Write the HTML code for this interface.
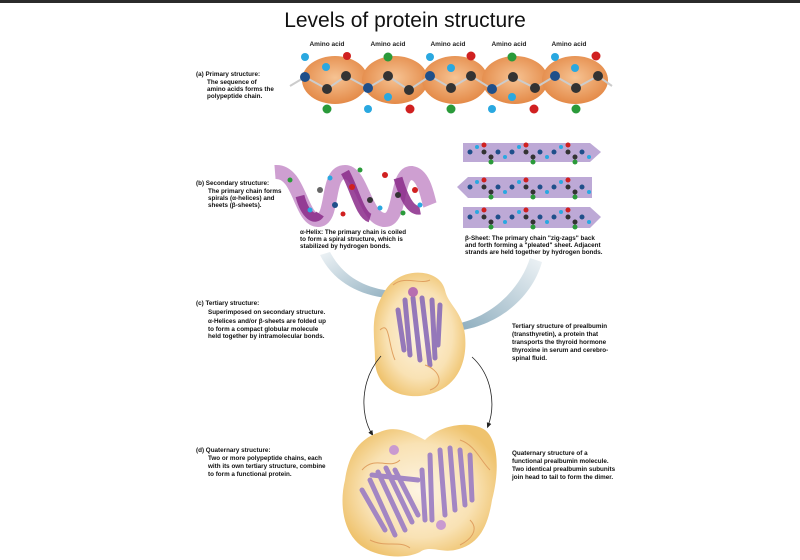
<!DOCTYPE html>
<html><head><meta charset="utf-8"><style>
html,body{margin:0;padding:0;background:#fff;}
svg{display:block;}
text{font-family:"Liberation Sans",Arial,sans-serif;fill:#111;}
.s{font-size:6.3px;font-weight:bold;}
.aa{font-size:6.5px;font-weight:bold;fill:#222;}
</style></head><body>
<svg width="800" height="560" viewBox="0 0 800 560" xmlns="http://www.w3.org/2000/svg">
<defs>
<radialGradient id="og" cx="50%" cy="45%" r="55%"><stop offset="0" stop-color="#f6c393"/><stop offset="1" stop-color="#e48a48"/></radialGradient>
<radialGradient id="yb" cx="50%" cy="50%" r="55%"><stop offset="0" stop-color="#fdf4e2"/><stop offset="0.65" stop-color="#f9e2b4"/><stop offset="1" stop-color="#efc36e"/></radialGradient>
<linearGradient id="ar1" x1="0" y1="0" x2="1" y2="1"><stop offset="0" stop-color="#eef3f6"/><stop offset="1" stop-color="#7ea2b5"/></linearGradient>
<linearGradient id="ar2" x1="1" y1="0" x2="0" y2="1"><stop offset="0" stop-color="#eef3f6"/><stop offset="1" stop-color="#7ea2b5"/></linearGradient>
<marker id="ah" markerWidth="8" markerHeight="8" refX="4" refY="4" orient="auto"><path d="M0,1 L7,4 L0,7 z" fill="#222"/></marker>
</defs>
<rect x="0" y="0" width="800" height="3" fill="#2b2b2b"/>
<text x="405" y="27" text-anchor="middle" style="font-size:21px;">Levels of protein structure</text>

<!-- (a) primary -->
<text x="327" y="46" text-anchor="middle" class="aa">Amino acid</text>
<text x="388" y="46" text-anchor="middle" class="aa">Amino acid</text>
<text x="448" y="46" text-anchor="middle" class="aa">Amino acid</text>
<text x="509" y="46" text-anchor="middle" class="aa">Amino acid</text>
<text x="569" y="46" text-anchor="middle" class="aa">Amino acid</text>
<g fill="url(#og)">
<ellipse cx="335" cy="80" rx="33" ry="24"/>
<ellipse cx="395" cy="80" rx="33" ry="24"/>
<ellipse cx="455" cy="80" rx="33" ry="24"/>
<ellipse cx="515" cy="80" rx="33" ry="24"/>
<ellipse cx="575" cy="80" rx="33" ry="24"/>
</g>
<polyline points="290,86 305,77 327,89 346,76 368,88 388,76 409,90 430,76 451,88 471,76 492,89 513,77 535,88 555,76 576,88 598,76 612,86" fill="none" stroke="#ccc" stroke-width="2"/>
<g>
<circle cx="305" cy="77" r="5" fill="#1f4f8a"/><circle cx="327" cy="89" r="5" fill="#333"/><circle cx="346" cy="76" r="5" fill="#333"/>
<circle cx="368" cy="88" r="5" fill="#1f4f8a"/><circle cx="388" cy="76" r="5" fill="#333"/><circle cx="409" cy="90" r="5" fill="#333"/>
<circle cx="430" cy="76" r="5" fill="#1f4f8a"/><circle cx="451" cy="88" r="5" fill="#333"/><circle cx="471" cy="76" r="5" fill="#333"/>
<circle cx="492" cy="89" r="5" fill="#1f4f8a"/><circle cx="513" cy="77" r="5" fill="#333"/><circle cx="535" cy="88" r="5" fill="#333"/>
<circle cx="555" cy="76" r="5" fill="#1f4f8a"/><circle cx="576" cy="88" r="5" fill="#333"/><circle cx="598" cy="76" r="5" fill="#333"/>
<circle cx="305" cy="57" r="4" fill="#2aa8e0"/><circle cx="326" cy="67" r="4" fill="#2aa8e0"/><circle cx="347" cy="56" r="4" fill="#d02020"/><circle cx="327" cy="109" r="4.5" fill="#2a9a3a"/>
<circle cx="388" cy="57" r="4.5" fill="#2a9a3a"/><circle cx="368" cy="109" r="4" fill="#2aa8e0"/><circle cx="388" cy="97" r="4" fill="#2aa8e0"/><circle cx="410" cy="109" r="4.5" fill="#d02020"/>
<circle cx="430" cy="57" r="4" fill="#2aa8e0"/><circle cx="451" cy="68" r="4" fill="#2aa8e0"/><circle cx="471" cy="56" r="4.5" fill="#d02020"/><circle cx="451" cy="109" r="4.5" fill="#2a9a3a"/>
<circle cx="512" cy="57" r="4.5" fill="#2a9a3a"/><circle cx="492" cy="109" r="4" fill="#2aa8e0"/><circle cx="512" cy="97" r="4" fill="#2aa8e0"/><circle cx="534" cy="109" r="4.5" fill="#d02020"/>
<circle cx="555" cy="57" r="4" fill="#2aa8e0"/><circle cx="575" cy="68" r="4" fill="#2aa8e0"/><circle cx="596" cy="56" r="4.5" fill="#d02020"/><circle cx="576" cy="109" r="4.5" fill="#2a9a3a"/>
</g>
<text class="s" x="196" y="76">(a) Primary structure:</text>
<text class="s" x="207" y="84">The sequence of</text>
<text class="s" x="207" y="91">amino acids forms the</text>
<text class="s" x="207" y="98">polypeptide chain.</text>

<!-- (b) secondary -->
<text class="s" x="196" y="185">(b) Secondary structure:</text>
<text class="s" x="208" y="193">The primary chain forms</text>
<text class="s" x="208" y="200">spirals (α-helices) and</text>
<text class="s" x="208" y="207">sheets (β-sheets).</text>
<path d="M275,172 C300,170 300,220 318,220 C335,220 325,172 345,172 C362,172 365,220 385,220 C402,220 395,172 412,173 C425,175 428,200 430,205" fill="none" stroke="#c995cc" stroke-width="14" opacity="0.9"/>
<path d="M300,196 C305,215 315,222 320,214 M345,172 C355,190 360,215 370,218 M398,178 C403,195 410,212 420,210" fill="none" stroke="#8a2a8a" stroke-width="9" opacity="0.85"/>
<g>
<circle cx="290" cy="180" r="2.5" fill="#2a9a3a"/><circle cx="320" cy="190" r="3" fill="#666"/><circle cx="335" cy="205" r="3" fill="#1f4f8a"/><circle cx="352" cy="187" r="3" fill="#d02020"/>
<circle cx="370" cy="200" r="3" fill="#333"/><circle cx="385" cy="175" r="3" fill="#d02020"/><circle cx="398" cy="195" r="3" fill="#333"/><circle cx="415" cy="190" r="3" fill="#d02020"/>
<circle cx="420" cy="205" r="2.5" fill="#2aa8e0"/><circle cx="360" cy="170" r="2.5" fill="#2a9a3a"/><circle cx="310" cy="210" r="2.5" fill="#2aa8e0"/><circle cx="343" cy="214" r="2.5" fill="#d02020"/>
<circle cx="403" cy="213" r="2.5" fill="#2a9a3a"/><circle cx="380" cy="208" r="2.5" fill="#2aa8e0"/><circle cx="330" cy="178" r="2.5" fill="#2aa8e0"/>
</g>
<text class="s" x="300" y="234">α-Helix: The primary chain is coiled</text>
<text class="s" x="300" y="241">to form a spiral structure, which is</text>
<text class="s" x="300" y="248">stabilized by hydrogen bonds.</text>
<g fill="#b6a0d2" opacity="0.9">
<polygon points="463,143 590,143 601,152 590,162 463,162"/>
<polygon points="468,177 592,177 592,198 468,198 457,187"/>
<polygon points="463,207 590,207 601,217 590,228 463,228"/>
</g>
<g>
<g id="row"><circle cx="470" cy="152" r="2.5" fill="#1f4f8a"/><circle cx="477" cy="147" r="2" fill="#2aa8e0"/><circle cx="484" cy="152" r="2.5" fill="#333"/><circle cx="484" cy="145" r="2.5" fill="#d02020"/><circle cx="491" cy="157" r="2.5" fill="#333"/><circle cx="491" cy="162" r="2.5" fill="#2a9a3a"/><circle cx="498" cy="152" r="2.5" fill="#1f4f8a"/><circle cx="505" cy="157" r="2" fill="#2aa8e0"/></g>
<use href="#row" x="42"/><use href="#row" x="84"/>
<use href="#row" y="35"/><use href="#row" x="42" y="35"/><use href="#row" x="84" y="35"/>
<use href="#row" y="65"/><use href="#row" x="42" y="65"/><use href="#row" x="84" y="65"/>
</g>
<text class="s" x="465" y="240">β-Sheet: The primary chain "zig-zags" back</text>
<text class="s" x="465" y="247">and forth forming a "pleated" sheet. Adjacent</text>
<text class="s" x="465" y="254">strands are held together by hydrogen bonds.</text>

<path d="M330,252 C345,280 370,290 400,292 L398,284 L412,296 L398,305 L399,299 C365,298 335,285 320,255 z" fill="url(#ar1)"/>
<path d="M530,258 C520,290 490,318 455,324 L456,316 L442,331 L458,338 L456,331 C498,326 532,298 542,262 z" fill="url(#ar2)"/>

<!-- (c) tertiary -->
<path d="M395,280 C410,268 440,270 445,290 C448,305 462,310 465,335 C468,365 455,392 420,396 C390,398 375,380 375,360 C375,340 370,320 380,300 C385,290 388,285 395,280 z" fill="url(#yb)"/>
<g stroke="#8a6cb8" stroke-width="5" stroke-linecap="round" opacity="0.9">
<line x1="405" y1="300" x2="410" y2="355"/><line x1="413" y1="298" x2="420" y2="360"/><line x1="422" y1="298" x2="430" y2="365"/>
<line x1="432" y1="300" x2="435" y2="358"/><line x1="398" y1="310" x2="404" y2="350"/><line x1="440" y1="305" x2="438" y2="345"/>
</g>
<circle cx="413" cy="292" r="5" fill="#b76fb0"/>
<path d="M393,285 C405,275 420,285 430,280 M380,330 C390,320 388,345 395,360 M425,365 C440,370 445,385 430,390" fill="none" stroke="#e0a060" stroke-width="1"/>
<text class="s" x="196" y="305">(c) Tertiary structure:</text>
<text class="s" x="208" y="314">Superimposed on secondary structure.</text>
<text class="s" x="208" y="323">α-Helices and/or β-sheets are folded up</text>
<text class="s" x="208" y="331">to form a compact globular molecule</text>
<text class="s" x="208" y="338">held together by intramolecular bonds.</text>
<text class="s" x="512" y="328">Tertiary structure of prealbumin</text>
<text class="s" x="512" y="336">(transthyretin), a protein that</text>
<text class="s" x="512" y="344">transports the thyroid hormone</text>
<text class="s" x="512" y="352">thyroxine in serum and cerebro-</text>
<text class="s" x="512" y="360">spinal fluid.</text>

<path d="M381,356 C360,380 360,415 372,434" fill="none" stroke="#222" stroke-width="0.8" marker-end="url(#ah)"/>
<path d="M472,357 C492,375 496,405 488,426" fill="none" stroke="#222" stroke-width="0.8" marker-end="url(#ah)"/>

<!-- (d) quaternary -->
<path d="M380,432 C395,425 410,432 425,440 C440,425 470,420 485,430 C498,440 500,470 492,500 C488,525 480,545 455,550 C440,553 430,545 420,552 C405,560 370,558 355,540 C342,525 340,500 345,480 C348,460 355,440 380,432 z" fill="url(#yb)"/>
<g stroke="#9a7cc4" stroke-width="5" stroke-linecap="round" opacity="0.9">
<line x1="370" y1="480" x2="395" y2="535"/><line x1="378" y1="472" x2="405" y2="530"/><line x1="386" y1="468" x2="412" y2="522"/>
<line x1="395" y1="470" x2="418" y2="515"/><line x1="362" y1="490" x2="385" y2="530"/><line x1="372" y1="475" x2="418" y2="480"/>
<line x1="430" y1="455" x2="432" y2="520"/><line x1="440" y1="450" x2="445" y2="515"/><line x1="450" y1="448" x2="455" y2="510"/>
<line x1="460" y1="450" x2="465" y2="505"/><line x1="470" y1="455" x2="472" y2="500"/><line x1="422" y1="470" x2="425" y2="520"/>
</g>
<circle cx="394" cy="450" r="5" fill="#c99ad0"/><circle cx="441" cy="525" r="5" fill="#c99ad0"/>
<path d="M362,470 C375,455 390,470 400,460 M460,440 C475,445 480,460 490,470 M370,540 C385,548 400,540 410,548 M470,520 C480,530 470,540 460,545" fill="none" stroke="#e0a060" stroke-width="1"/>
<text class="s" x="196" y="452">(d) Quaternary structure:</text>
<text class="s" x="208" y="460">Two or more polypeptide chains, each</text>
<text class="s" x="208" y="468">with its own tertiary structure, combine</text>
<text class="s" x="208" y="476">to form a functional protein.</text>
<text class="s" x="512" y="455">Quaternary structure of a</text>
<text class="s" x="512" y="463">functional prealbumin molecule.</text>
<text class="s" x="512" y="471">Two identical prealbumin subunits</text>
<text class="s" x="512" y="479">join head to tail to form the dimer.</text>
</svg>
</body></html>
